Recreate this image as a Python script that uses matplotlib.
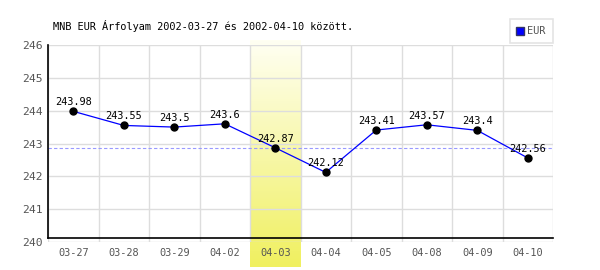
import numpy as np
import matplotlib.pyplot as plt
from matplotlib.lines import Line2D
from matplotlib.colors import LinearSegmentedColormap

# data
dates = ['03-27', '03-28', '03-29', '04-02', '04-03',
         '04-04', '04-05', '04-08', '04-09', '04-10']
rates = [243.98, 243.55, 243.5, 243.6, 242.87,
         242.12, 243.41, 243.57, 243.4, 242.56]
labels = ['243.98', '243.55', '243.5', '243.6', '242.87',
          '242.12', '243.41', '243.57', '243.4', '242.56']
highlight = 4
yticks = [240, 241, 242, 243, 244, 245, 246]

mono = 'DejaVu Sans Mono'
fs = 7.4

fig = plt.figure(figsize=(6, 2.7), dpi=100)
ax = fig.add_axes([48/600, 1-242/270, 505/600, 197/270])
x = np.arange(len(dates))
ax.set_xlim(-0.5, len(dates)-0.5)
ax.set_ylim(240, 246)

# highlighted column with a yellow gradient
grad = np.linspace(0, 1, 100).reshape(-1, 1)
cm = LinearSegmentedColormap.from_list('yl', ['#fffff2', '#f0f060'])
ax.imshow(grad, cmap=cm, aspect='auto', origin='upper',
          extent=(highlight-0.5, highlight+0.5, 239.24, 246.15),
          clip_on=False, zorder=0)

# grid
for yv in yticks:
    ax.axhline(yv, color='#dddddd', lw=1, zorder=1)
for xv in np.arange(len(dates)+1) - 0.5:
    ax.axvline(xv, color='#dddddd', lw=1, zorder=1)

for s in ax.spines.values():
    s.set_visible(False)
ax.plot([-0.5, -0.5], [240.12, 246], color='black', lw=1.2, zorder=3, clip_on=False)
ax.plot([-0.5, 9.5], [240.12, 240.12], color='black', lw=1.2, zorder=3, clip_on=False)

# reference line at the highlighted day's value
ax.axhline(rates[highlight], color='#9999ff', lw=0.8, ls=(0, (3, 2)), zorder=2)

ax.plot(x, rates, color='blue', lw=0.9, zorder=4)
ax.plot(x, rates, 'o', color='black', ms=5, zorder=5)
for xi, yi, t in zip(x, rates, labels):
    ax.annotate(t, (xi, yi), xytext=(0, 3), textcoords='offset points',
                ha='center', va='bottom', fontsize=fs, family=mono,
                color='black', zorder=6)

ax.set_xticks(x)
ax.set_xticklabels(dates, family=mono, fontsize=fs, color='#555555')
ax.set_yticks(yticks)
ax.set_yticklabels([str(v) for v in yticks], family=mono, fontsize=fs+0.8, color='#555555')
ax.tick_params(length=0, pad=4)

fig.text(53/600, 1-26/270, 'MNB EUR Árfolyam 2002-03-27 és 2002-04-10 között.',
         family=mono, fontsize=fs, va='center', ha='left')

h = Line2D([], [], marker='s', color='blue', markeredgecolor='#333366',
           ls='', ms=6)
leg = fig.legend([h], ['EUR'], loc='upper right',
                 bbox_to_anchor=(553/600, 1-19/270), frameon=True,
                 fancybox=False, edgecolor='#dddddd', prop={'family': mono, 'size': fs},
                 handlelength=0.6, handletextpad=0.4, borderpad=0.7,
                 borderaxespad=0)
leg.get_frame().set_linewidth(1.2)
for t in leg.get_texts():
    t.set_color('#555555')

plt.savefig('out.png', dpi=100)
